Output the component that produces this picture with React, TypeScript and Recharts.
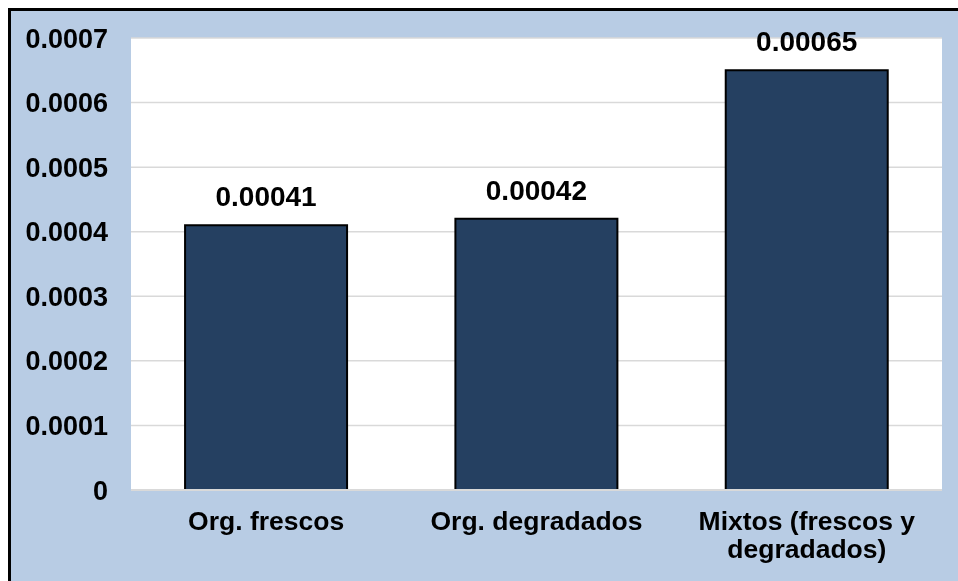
import React from "react";
import { BarChart, Bar, XAxis, YAxis, CartesianGrid, LabelList } from "recharts";

const categories = ["Org. frescos", "Org. degradados", "Mixtos (frescos y\ndegradados)"];
const values = [0.00041, 0.00042, 0.00065];
const yTicks = [0, 0.0001, 0.0002, 0.0003, 0.0004, 0.0005, 0.0006, 0.0007];

const data = categories.map((c, i) => ({ name: c, value: values[i] }));

const FONT = "'Liberation Sans', Arial, sans-serif";

const XTick = (props: any) => {
  const { x, y, payload } = props;
  const lines = String(payload.value).split("\n");
  return (
    <text
      x={x}
      y={y}
      textAnchor="middle"
      fontFamily={FONT}
      fontWeight="bold"
      fontSize={26.5}
      fill="#000"
    >
      {lines.map((l: string, i: number) => (
        <tspan key={i} x={x} dy={i === 0 ? 40 : 28}>
          {l}
        </tspan>
      ))}
    </text>
  );
};

const fmtY = (v: number) => (v === 0 ? "0" : v.toFixed(4));

export default function App() {
  return (
    <>
      <style>{"html,body{overflow:hidden;} html{background:#b8cce4;}"}</style>
      <div style={{ position: "fixed", left: 0, top: 0, width: 2000, height: 8, background: "#fff" }} />
      <div style={{ position: "fixed", left: 0, top: 0, width: 8, height: 2000, background: "#fff" }} />
      <div style={{ position: "fixed", left: 8, top: 8, width: 2000, height: 3, background: "#000" }} />
      <div
        style={{
          width: 947,
          height: 570,
          borderLeft: "3px solid #000",
          borderTop: "3px solid #000",
          background: "#b8cce4",
          boxSizing: "content-box",
        }}
      >
        <BarChart
          width={947}
          height={570}
          data={data}
          margin={{ top: 27, right: 16, bottom: 0, left: 0 }}
          barCategoryGap="20%"
        >
          <CartesianGrid
            vertical={false}
            stroke="#d9d9d9"
            strokeWidth={1.5}
            fill="#ffffff"
            fillOpacity={1}
          />
          <XAxis
            dataKey="name"
            height={91}
            interval={0}
            tickLine={false}
            tickSize={0}
            tickMargin={0}
            axisLine={{ stroke: "#d9d9d9", strokeWidth: 2 }}
            tick={<XTick />}
          />
          <YAxis
            width={120}
            domain={[0, 0.0007]}
            ticks={yTicks}
            tickFormatter={fmtY}
            axisLine={false}
            tickLine={false}
            tickSize={0}
            tickMargin={23}
            tick={{ fontFamily: FONT, fontWeight: "bold", fontSize: 27, fill: "#000" }}
          />
          <Bar
            dataKey="value"
            fill="#254061"
            stroke="#000"
            strokeWidth={2}
            isAnimationActive={false}
          >
            <LabelList
              dataKey="value"
              position="top"
              offset={19}
              style={{ fontFamily: FONT, fontWeight: "bold", fontSize: 28, fill: "#000" }}
            />
          </Bar>
        </BarChart>
      </div>
    </>
  );
}
